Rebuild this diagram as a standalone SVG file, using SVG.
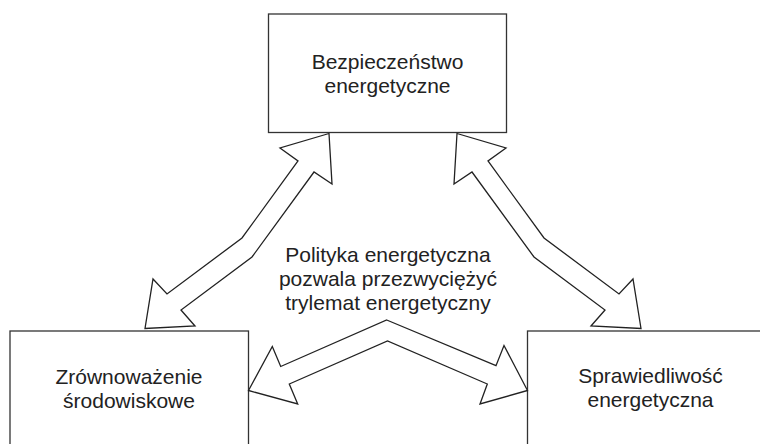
<svg xmlns="http://www.w3.org/2000/svg" width="760" height="444" viewBox="0 0 760 444">
<style>
.box{fill:#fff;stroke:#333;stroke-width:1.3}
.arr{fill:#fff;stroke:#222;stroke-width:1.3;stroke-linejoin:miter}
text{font-family:"Liberation Sans",Arial,sans-serif;font-size:21px;fill:#222;text-anchor:middle}
</style>
<rect width="760" height="444" fill="#fff"/>
<g id="bezpieczenstwo">
<rect class="box" x="268.5" y="14" width="238" height="118.5"/>
<text x="387.5" y="69">Bezpieczeństwo</text>
<text x="387.5" y="93">energetyczne</text>
</g>
<g id="zrownowazenie">
<rect class="box" x="10" y="331" width="238.5" height="130"/>
<text x="129" y="384">Zrównoważenie</text>
<text x="129" y="408">środowiskowe</text>
</g>
<g id="sprawiedliwosc">
<rect class="box" x="527.5" y="331" width="250" height="130"/>
<text x="650.5" y="383">Sprawiedliwość</text>
<text x="650.5" y="407">energetyczna</text>
</g>
<g id="center-label">
<text x="388" y="262">Polityka energetyczna</text>
<text x="388" y="286">pozwala przezwyciężyć</text>
<text x="388" y="310">trylemat energetyczny</text>
</g>
<g id="connectors">
<polygon class="arr" points="329,133.5 280,148 298,161 242,238 167,294 153,279 145,328.5 195,326 181,310 252,257 314,172 332,184"/>
<polygon class="arr" points="457,133.5 506,148 488,161 544,238 619,294 633,279 641,328.5 591,326 605,310 534,257 472,172 454,184"/>
<polygon class="arr" points="386.7,320 496,365.7 504,345.5 527.5,390.5 480,404 487.3,384 387.5,341 289.3,384 297.7,404 248.5,390.5 272.3,346.5 280.7,366.5"/>
</g>
</svg>
